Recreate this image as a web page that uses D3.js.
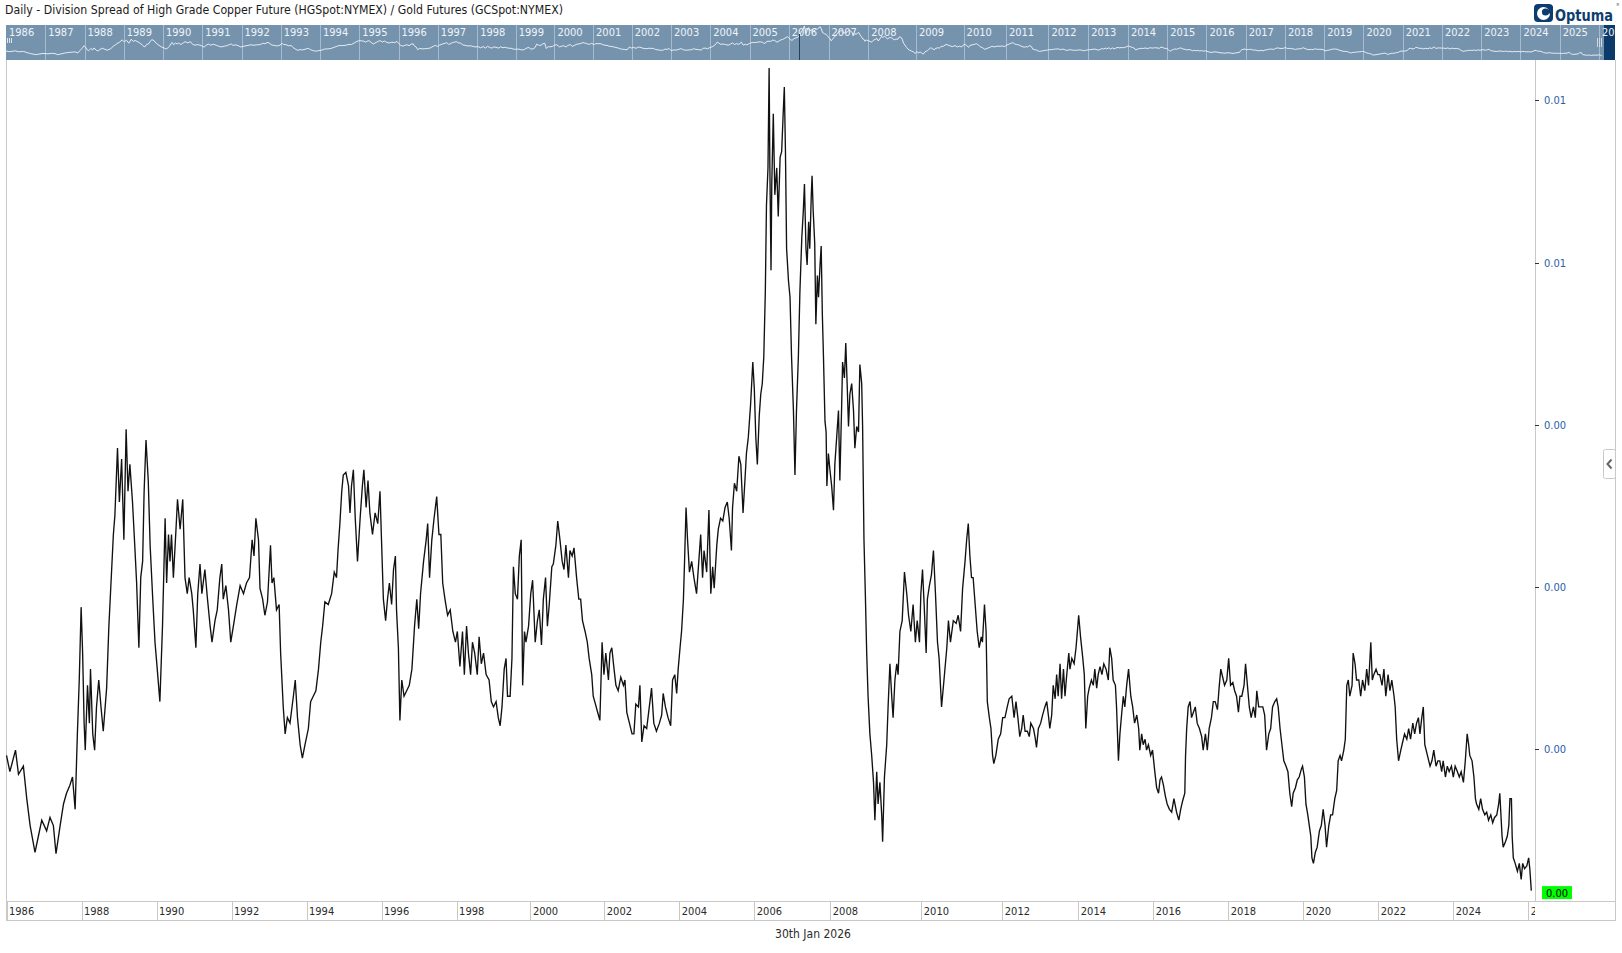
<!DOCTYPE html>
<html><head><meta charset="utf-8">
<script src="https://cdnjs.cloudflare.com/ajax/libs/d3/7.8.5/d3.min.js"></script>
<style>
html,body{margin:0;padding:0;background:#fff;overflow:hidden;}
svg{display:block;}
text{font-family:"DejaVu Sans Condensed","DejaVu Sans",sans-serif;font-stretch:condensed;}
</style></head><body>
<svg id="c" width="1622" height="953"></svg>
<script>
// ---------------- DATA ----------------
const titleText = "Daily - Division Spread of High Grade Copper Future (HGSpot:NYMEX) / Gold Futures (GCSpot:NYMEX)";
const dateText = "30th Jan 2026";
const xTickYears = [1986,1988,1990,1992,1994,1996,1998,2000,2002,2004,2006,2008,2010,2012,2014,2016,2018,2020,2022,2024,2026];
const navYears = [1986,1987,1988,1989,1990,1991,1992,1993,1994,1995,1996,1997,1998,1999,2000,2001,2002,2003,2004,2005,2006,2007,2008,2009,2010,2011,2012,2013,2014,2015,2016,2017,2018,2019,2020,2021,2022,2023,2024,2025,2026];
const yTicks = [0.002,0.003,0.004,0.005,0.006];
const yTickLabels = ["0.00","0.00","0.00","0.01","0.01"];
const lastValueLabel = "0.00";

const years = [
1986.00,1986.09,1986.24,1986.32,1986.45,1986.54,1986.63,1986.76,1986.85,1986.94,
1987.07,1987.16,1987.25,1987.32,1987.43,1987.52,1987.60,1987.69,1987.76,1987.83,
1987.89,1987.94,1987.99,1988.03,1988.07,1988.10,1988.16,1988.21,1988.24,1988.30,
1988.35,1988.40,1988.46,1988.52,1988.58,1988.67,1988.73,1988.79,1988.85,1988.89,
1988.96,1989.01,1989.07,1989.13,1989.19,1989.24,1989.29,1989.36,1989.42,1989.47,
1989.53,1989.58,1989.63,1989.67,1989.72,1989.78,1989.83,1989.90,1989.96,1990.02,
1990.09,1990.16,1990.23,1990.27,1990.32,1990.36,1990.40,1990.45,1990.52,1990.56,
1990.63,1990.70,1990.76,1990.82,1990.87,1990.94,1990.98,1991.05,1991.10,1991.16,
1991.21,1991.29,1991.36,1991.43,1991.48,1991.56,1991.62,1991.69,1991.74,1991.78,
1991.85,1991.92,1991.98,1992.05,1992.14,1992.23,1992.32,1992.40,1992.48,1992.55,
1992.60,1992.65,1992.72,1992.76,1992.83,1992.89,1992.96,1993.04,1993.08,1993.13,
1993.20,1993.27,1993.31,1993.38,1993.43,1993.49,1993.56,1993.65,1993.70,1993.76,
1993.83,1993.89,1993.96,1994.05,1994.11,1994.18,1994.25,1994.32,1994.38,1994.43,
1994.49,1994.58,1994.67,1994.74,1994.80,1994.84,1994.89,1994.94,1994.98,1995.05,
1995.12,1995.16,1995.20,1995.25,1995.30,1995.36,1995.43,1995.49,1995.53,1995.59,
1995.64,1995.69,1995.76,1995.83,1995.90,1995.96,1996.00,1996.05,1996.11,1996.16,
1996.21,1996.27,1996.32,1996.37,1996.40,1996.45,1996.49,1996.54,1996.60,1996.67,
1996.74,1996.81,1996.88,1996.94,1996.99,1997.04,1997.12,1997.19,1997.23,1997.28,
1997.34,1997.40,1997.47,1997.53,1997.58,1997.63,1997.69,1997.76,1997.83,1997.90,
1997.97,1998.02,1998.09,1998.16,1998.21,1998.27,1998.32,1998.38,1998.43,1998.49,
1998.56,1998.61,1998.67,1998.73,1998.80,1998.88,1998.94,1999.00,1999.07,1999.13,
1999.18,1999.23,1999.29,1999.34,1999.38,
1999.45,1999.50,1999.54,1999.59,1999.65,1999.70,1999.75,1999.79,1999.84,1999.88,
1999.95,2000.01,2000.06,2000.13,2000.19,2000.24,2000.30,2000.35,2000.41,2000.46,
2000.51,2000.58,2000.62,2000.69,2000.74,2000.80,2000.86,2000.91,2000.96,2001.03,
2001.07,2001.13,2001.18,2001.25,2001.31,2001.36,2001.41,2001.48,2001.54,2001.59,
2001.66,2001.70,2001.76,2001.82,2001.88,2001.94,2001.99,2002.04,2002.11,2002.15,
2002.20,2002.26,2002.31,2002.37,2002.44,2002.51,2002.55,2002.60,2002.67,2002.74,
2002.79,2002.84,2002.91,2002.95,2003.00,2003.06,2003.13,2003.20,2003.26,2003.32,
2003.39,2003.47,2003.53,2003.57,2003.63,2003.70,2003.77,2003.82,2003.88,2003.93,
2003.97,2004.02,2004.06,2004.11,2004.14,2004.18,2004.22,2004.27,2004.33,2004.39,
2004.46,2004.52,2004.57,2004.62,2004.66,2004.73,2004.79,2004.84,2004.89,2004.93,
2005.00,2005.04,2005.10,2005.16,2005.22,2005.28,2005.33,2005.39,2005.42,2005.47,
2005.53,2005.59,2005.64,2005.70,2005.75,2005.79,2005.84,2005.90,2005.96,2006.00,
2006.04,2006.08,2006.13,2006.17,2006.21,2006.25,2006.29,2006.32,2006.36,2006.39,
2006.41,2006.44,2006.46,2006.50,2006.54,2006.59,2006.63,2006.68,2006.72,2006.76,
2006.79,2006.82,2006.85,2006.90,2006.94,2006.98,2007.03,2007.07,2007.11,2007.16,
2007.20,2007.25,2007.29,2007.32,2007.36,2007.39,2007.43,2007.46,2007.50,2007.52,
2007.55,2007.59,2007.62,2007.66,2007.69,2007.73,2007.76,2007.79,2007.82,2007.86,
2007.89,2007.91,2007.95,2007.99,2008.03,2008.07,2008.10,2008.14,2008.18,2008.21,
2008.25,2008.27,2008.31,2008.34,2008.37,2008.40,2008.43,2008.47,2008.51,2008.54,
2008.58,2008.62,2008.65,2008.69,2008.71,2008.74,2008.77,2008.80,2008.83,2008.87,
2008.91,2008.95,2008.98,2009.02,2009.05,2009.09,2009.13,2009.15,2009.19,2009.24,
2009.27,2009.31,2009.35,2009.38,2009.42,2009.46,2009.49,2009.53,2009.58,2009.63,
2009.68,2009.72,2009.77,2009.82,2009.87,2009.91,2009.96,2009.99,2010.03,2010.07,
2010.12,2010.15,2010.20,2010.25,2010.30,2010.35,2010.40,2010.44,2010.50,2010.56,
2010.63,2010.67,2010.72,2010.79,2010.86,2010.91,2010.97,2011.02,2011.08,2011.12,
2011.16,2011.20,2011.24,2011.28,2011.33,2011.38,2011.43,2011.48,2011.51,2011.56,
2011.60,2011.63,2011.68,2011.72,2011.76,2011.79,2011.84,2011.90,2011.96,2012.01,
2012.07,2012.13,2012.18,2012.25,2012.31,2012.36,2012.41,
2012.46,2012.51,2012.55,2012.60,2012.66,2012.71,2012.75,2012.82,2012.86,2012.90,
2012.95,2013.01,2013.06,2013.12,2013.17,2013.22,2013.25,2013.30,2013.34,2013.39,
2013.43,2013.47,2013.52,2013.56,2013.61,2013.65,2013.69,2013.75,2013.78,2013.83,
2013.89,2013.94,2013.97,2014.01,2014.06,2014.12,2014.16,2014.20,2014.25,2014.29,
2014.35,2014.40,2014.44,2014.49,2014.53,2014.58,2014.63,2014.68,2014.74,2014.80,
2014.84,2014.89,2014.93,2014.99,2015.02,2015.07,2015.11,2015.16,2015.20,2015.24,
2015.29,2015.34,2015.40,2015.45,2015.50,2015.56,2015.61,2015.64,2015.69,2015.73,
2015.78,2015.82,2015.87,2015.93,2015.98,2016.04,2016.09,2016.14,2016.18,2016.22,
2016.27,2016.32,2016.37,2016.43,2016.49,2016.55,2016.62,2016.68,2016.73,2016.78,
2016.84,2016.86,2016.89,2016.93,2016.98,2017.02,2017.07,2017.12,2017.17,2017.23,
2017.29,2017.33,2017.39,2017.44,2017.49,2017.55,2017.60,2017.65,2017.71,2017.76,
2017.80,2017.85,2017.90,2017.96,2018.01,2018.06,2018.12,2018.17,2018.22,2018.27,
2018.31,2018.36,2018.42,2018.46,2018.51,2018.56,2018.61,2018.67,2018.72,2018.76,
2018.81,2018.86,2018.92,2018.97,2019.02,2019.08,2019.13,2019.18,2019.24,2019.29,
2019.33,2019.38,2019.43,2019.48,2019.54,2019.59,2019.64,2019.69,2019.73,2019.79,
2019.84,2019.89,2019.95,2019.98,2020.03,2020.07,2020.12,2020.16,2020.20,2020.23,
2020.27,2020.32,2020.37,2020.43,2020.48,2020.53,2020.58,2020.62,2020.68,2020.73,
2020.78,2020.84,2020.89,2020.93,2020.98,2021.02,2021.08,2021.12,2021.16,2021.20,
2021.24,2021.30,2021.33,2021.38,2021.42,2021.48,2021.53,2021.58,2021.64,2021.69,
2021.74,2021.80,2021.84,2021.88,2021.94,2021.99,2022.04,2022.10,2022.15,2022.20,
2022.26,2022.31,2022.36,2022.42,2022.45,2022.49,2022.54,2022.60,2022.65,2022.70,
2022.76,2022.81,2022.86,2022.92,2022.97,2023.02,2023.07,2023.11,2023.16,2023.20,
2023.24,2023.31,2023.38,2023.43,2023.48,2023.54,2023.59,2023.64,2023.69,2023.73,
2023.79,2023.84,2023.89,2023.95,2024.00,2024.05,2024.11,2024.16,2024.21,2024.27,
2024.32,2024.37,2024.41,2024.44,2024.50,2024.55,2024.59,2024.62,2024.68,2024.73,
2024.78,2024.84,2024.89,2024.94,2025.00,2025.05,2025.10,2025.16,2025.21,2025.24,
2025.27,2025.30,2025.33,2025.39,2025.44,2025.48,2025.51,2025.55,2025.57,2025.60,
2025.65,2025.71,2025.76,2025.81,2025.85,2025.90,2025.96,2026.01,2026.04,2026.08
];

const ratio = [
0.001963,0.001863,0.001996,0.001847,0.001897,0.001697,0.001531,0.001365,0.001465,0.001564,
0.001498,0.001581,0.001531,0.001358,0.001531,0.001664,0.001730,0.001780,0.001830,0.001631,
0.002096,0.002428,0.002877,0.002594,0.002162,0.001996,0.002395,0.002162,0.002495,0.002096,
0.001996,0.002262,0.002428,0.002262,0.002112,0.002378,0.002760,0.003043,0.003325,0.003441,
0.003857,0.003525,0.003790,0.003292,0.003973,0.003591,0.003757,0.003525,0.003259,0.003026,
0.002627,0.003059,0.003159,0.003591,0.003907,0.003657,0.003259,0.002926,0.002661,0.002495,
0.002295,0.002760,0.003425,0.003026,0.003325,0.003159,0.003325,0.003059,0.003358,0.003541,
0.003358,0.003541,0.003059,0.002960,0.003059,0.002960,0.002860,0.002627,0.002960,0.003142,
0.002960,0.003109,0.002926,0.002760,0.002661,0.002794,0.002860,0.003059,0.003142,0.002926,
0.003010,0.002860,0.002661,0.002760,0.002893,0.003010,0.002960,0.003026,0.003059,0.003292,
0.003192,0.003425,0.003292,0.002993,0.002926,0.002827,0.002910,0.003259,0.003026,0.003059,
0.002860,0.002893,0.002594,0.002262,0.002096,0.002196,0.002162,0.002328,0.002428,0.002196,
0.002029,0.001946,0.002029,0.002129,0.002295,0.002328,0.002362,0.002495,0.002661,0.002760,
0.002910,0.002893,0.002960,0.003093,0.003059,0.003226,0.003392,0.003591,0.003691,0.003707,
0.003624,0.003458,0.003624,0.003724,0.003425,0.003159,0.003425,0.003624,0.003724,0.003491,
0.003657,0.003458,0.003325,0.003458,0.003392,0.003591,0.003292,0.002926,0.002794,0.002926,
0.003026,0.002893,0.003109,0.003192,0.002860,0.002627,0.002179,0.002428,0.002328,0.002362,
0.002395,0.002495,0.002760,0.002926,0.002744,0.002960,0.003159,0.003292,0.003392,0.003059,
0.003292,0.003425,0.003558,0.003325,0.003325,0.003026,0.002926,0.002827,0.002860,0.002727,
0.002661,0.002727,0.002511,0.002727,0.002461,0.002760,0.002594,0.002461,0.002661,0.002594,
0.002461,0.002694,0.002528,0.002594,0.002461,0.002428,0.002295,0.002262,0.002295,0.002196,
0.002146,0.002262,0.002495,0.002561,0.002328,
0.002328,0.002561,0.003126,0.002960,0.002926,0.003192,0.003292,0.002395,0.002727,0.002661,
0.002760,0.002960,0.003043,0.002661,0.002794,0.002860,0.002644,0.002926,0.003059,0.002760,
0.002893,0.003126,0.003142,0.003259,0.003408,0.003292,0.003159,0.003109,0.003259,0.003059,
0.003226,0.003192,0.003242,0.003059,0.002926,0.002926,0.002794,0.002727,0.002661,0.002561,
0.002461,0.002328,0.002279,0.002229,0.002179,0.002661,0.002461,0.002594,0.002428,0.002594,
0.002627,0.002495,0.002395,0.002362,0.002445,0.002395,0.002428,0.002229,0.002162,0.002096,
0.002096,0.002279,0.002262,0.002395,0.002046,0.002146,0.002129,0.002262,0.002378,0.002162,
0.002112,0.002162,0.002212,0.002345,0.002262,0.002196,0.002146,0.002428,0.002461,0.002345,
0.002495,0.002627,0.002727,0.002926,0.003159,0.003491,0.003292,0.003093,0.003159,0.003059,
0.002960,0.003159,0.003325,0.003059,0.003226,0.003093,0.003475,0.002960,0.003126,0.002993,
0.003259,0.003358,0.003425,0.003408,0.003491,0.003525,0.003425,0.003226,0.003491,0.003641,
0.003591,0.003807,0.003757,0.003458,0.003657,0.003824,0.003923,0.004123,0.004388,0.004222,
0.003923,0.003757,0.004056,0.004189,0.004255,0.004422,0.004820,0.005352,0.005584,0.006199,
0.005584,0.004953,0.005485,0.005917,0.005418,0.005584,0.005285,0.005651,0.005684,0.005917,
0.006083,0.005684,0.005086,0.004887,0.004787,0.004422,0.004089,0.003691,0.004089,0.004422,
0.004820,0.005153,0.005319,0.005485,0.005086,0.004986,0.005252,0.005086,0.005418,0.005535,
0.005319,0.005119,0.004621,0.004920,0.004787,0.004986,0.005103,0.004687,0.004422,0.004023,
0.003956,0.003624,0.003824,0.003724,0.003624,0.003475,0.003757,0.003923,0.004089,0.003657,
0.004123,0.004388,0.004289,0.004505,0.004255,0.003990,0.004189,0.004255,0.004089,0.003857,
0.003990,0.003956,0.004372,0.004255,0.003990,0.003292,0.002960,0.002594,0.002328,0.002096,
0.001963,0.001797,0.001564,0.001863,0.001664,0.001797,0.001597,0.001431,0.001830,0.002029,
0.002262,0.002528,0.002328,0.002196,0.002428,0.002528,0.002461,0.002727,0.002794,0.003093,
0.002960,0.002827,0.002727,0.002893,0.002661,0.002794,0.002661,0.002960,0.003109,0.002893,
0.002594,0.002926,0.003010,0.003076,0.003226,0.002960,0.002661,0.002561,0.002262,0.002428,
0.002627,0.002794,0.002661,0.002794,0.002777,0.002827,0.002727,0.002993,0.003159,0.003292,
0.003392,0.003192,0.003059,0.003059,0.002893,0.002727,0.002627,0.002694,0.002661,0.002893,
0.002727,0.002295,0.002196,0.002129,0.001963,0.001913,0.001963,0.002063,0.002096,0.002196,
0.002196,0.002262,0.002312,0.002328,0.002196,0.002295,0.002196,
0.002079,0.002129,0.002212,0.002112,0.002112,0.002079,0.002162,0.002129,0.002079,0.002013,
0.002129,0.002162,0.002212,0.002262,0.002295,0.002196,0.002129,0.002212,0.002395,0.002312,
0.002461,0.002328,0.002528,0.002312,0.002495,0.002328,0.002445,0.002594,0.002495,0.002561,
0.002528,0.002627,0.002711,0.002827,0.002694,0.002561,0.002461,0.002129,0.002328,0.002378,
0.002428,0.002395,0.002495,0.002378,0.002461,0.002511,0.002461,0.002528,0.002495,0.002428,
0.002627,0.002561,0.002428,0.002395,0.002262,0.001930,0.002096,0.002229,0.002328,0.002262,
0.002395,0.002495,0.002328,0.002262,0.002162,0.002212,0.002129,0.001996,0.002096,0.002029,
0.002063,0.001996,0.002029,0.001963,0.001996,0.001863,0.001764,0.001730,0.001813,0.001830,
0.001780,0.001714,0.001664,0.001631,0.001614,0.001697,0.001614,0.001564,0.001631,0.001681,
0.001730,0.001963,0.002129,0.002262,0.002295,0.002196,0.002229,0.002262,0.002162,0.002129,
0.002079,0.001996,0.002096,0.001996,0.002129,0.002196,0.002295,0.002295,0.002245,0.002395,
0.002495,0.002445,0.002395,0.002428,0.002561,0.002395,0.002412,0.002362,0.002328,0.002229,
0.002328,0.002328,0.002395,0.002528,0.002395,0.002262,0.002196,0.002262,0.002196,0.002362,
0.002262,0.002262,0.002262,0.002212,0.001996,0.002096,0.002129,0.002262,0.002295,0.002312,
0.002262,0.002129,0.002029,0.001930,0.001897,0.001863,0.001730,0.001647,0.001730,0.001764,
0.001813,0.001830,0.001880,0.001897,0.001830,0.001664,0.001597,0.001531,0.001465,0.001332,
0.001298,0.001365,0.001398,0.001498,0.001531,0.001631,0.001531,0.001398,0.001531,0.001597,
0.001597,0.001697,0.001747,0.001930,0.001963,0.001930,0.001996,0.002063,0.002395,0.002428,
0.002328,0.002395,0.002594,0.002528,0.002428,0.002428,0.002328,0.002428,0.002362,0.002495,
0.002395,0.002661,0.002428,0.002461,0.002495,0.002461,0.002461,0.002395,0.002495,0.002328,
0.002461,0.002362,0.002428,0.002328,0.002262,0.002063,0.001930,0.001996,0.002046,0.002096,
0.002063,0.002129,0.002063,0.002162,0.002096,0.002162,0.002196,0.002096,0.002196,0.002262,
0.002029,0.001963,0.001897,0.001930,0.001996,0.001897,0.001930,0.001930,0.001863,0.001930,
0.001830,0.001897,0.001863,0.001897,0.001830,0.001897,0.001863,0.001830,0.001863,0.001797,
0.001930,0.002096,0.002029,0.001963,0.001930,0.001830,0.001697,0.001664,0.001631,0.001697,
0.001631,0.001597,0.001614,0.001564,0.001597,0.001548,0.001581,0.001597,0.001664,0.001730,
0.001597,0.001465,0.001398,0.001431,0.001465,0.001531,0.001697,0.001697,0.001465,0.001332,
0.001298,0.001249,0.001298,0.001199,0.001298,0.001265,0.001282,0.001332,0.001265,0.001130
];

// ---------------- LAYOUT ----------------
const plot = {left: 6, right: 1535, top: 60, bottom: 901};
const band = {top: 901, bottom: 920};
const outerRight = 1615;
const nav = {left: 6, right: 1615, top: 25, bottom: 60, dataRight: 1599};
// the original time axis is bar-indexed, so its year breaks are not evenly spaced
const xBreakPx = [6.5,81.5,156.5,231.5,306.5,381.5,456.6,530.4,604.3,679.3,754.3,830.3,921.3,1002.3,1078.3,1153.3,1228.3,1303.3,1378.3,1453.3,1528.3];

const svg = d3.select("#c");
const data = d3.zip(years, ratio);

const x = d3.scaleLinear().domain(xTickYears).range(xBreakPx);
const y = d3.scaleLinear().domain([0.001066, 0.006249]).range([plot.bottom, plot.top]);

const navK = (nav.dataRight - nav.left) / (xBreakPx[xBreakPx.length-1] - xBreakPx[0]);
const navX = d3.scaleLinear().domain(xTickYears).range(xBreakPx.map(p => nav.left + (p - xBreakPx[0]) * navK));
const navY = d3.scaleLinear().domain(d3.extent(ratio)).range([nav.bottom - 4, nav.top + 1]);

const defs = svg.append("defs");
defs.append("clipPath").attr("id","plotClip").append("rect")
  .attr("x", plot.left).attr("y", plot.top).attr("width", plot.right - plot.left).attr("height", plot.bottom - plot.top);
defs.append("clipPath").attr("id","bandClip").append("rect")
  .attr("x", plot.left).attr("y", band.top).attr("width", plot.right - plot.left).attr("height", band.bottom - band.top);
defs.append("clipPath").attr("id","navClip").append("rect")
  .attr("x", nav.left).attr("y", nav.top).attr("width", nav.right - nav.left).attr("height", nav.bottom - nav.top);

// ---------------- TITLE ----------------
svg.append("text").attr("x", 5).attr("y", 14)
  .attr("font-size", 11.5).attr("fill", "#1a1a1a")
  .attr("textLength", 558).attr("lengthAdjust", "spacingAndGlyphs")
  .text(titleText);

// ---------------- LOGO ----------------
const logo = svg.append("g");
logo.append("rect").attr("x", 1534).attr("y", 4).attr("width", 19).attr("height", 18).attr("rx", 4).attr("fill", "#0d3d6e");
logo.append("circle").attr("cx", 1543.5).attr("cy", 13.5).attr("r", 6.5).attr("fill", "#fff");
logo.append("circle").attr("cx", 1545.5).attr("cy", 12).attr("r", 3.6).attr("fill", "#0d3d6e");
logo.append("path").attr("d", "M1543.5,13.5 L1553,6 L1553,13.5 Z").attr("fill", "#0d3d6e");
logo.append("text").attr("x", 1555).attr("y", 20.5)
  .attr("font-size", 16).attr("font-weight", "bold").attr("fill", "#0d3d6e")
  .attr("textLength", 58).attr("lengthAdjust", "spacingAndGlyphs").text("Optuma");
logo.append("text").attr("x", 1616).attr("y", 6).attr("font-size", 4).attr("fill", "#0d3d6e").text("®");

// ---------------- NAVIGATOR ----------------
const navG = svg.append("g").attr("clip-path", "url(#navClip)");
navG.append("rect").attr("x", nav.left).attr("y", nav.top).attr("width", nav.right - nav.left).attr("height", nav.bottom - nav.top).attr("fill", "#7693ae");
navG.append("rect").attr("x", 1604).attr("y", nav.top).attr("width", nav.right - 1604).attr("height", nav.bottom - nav.top).attr("fill", "#0c3a6a");
navG.selectAll("line.navsep").data(navYears.slice(1)).join("line").attr("class","navsep")
  .attr("x1", d => Math.round(navX(d)) + 0.5).attr("x2", d => Math.round(navX(d)) + 0.5)
  .attr("y1", nav.top).attr("y2", nav.bottom).attr("stroke", "#a7bbce").attr("stroke-width", 1);
navG.selectAll("text.navlab").data(navYears).join("text").attr("class","navlab")
  .attr("x", d => navX(d) + 3).attr("y", nav.top + 11)
  .attr("font-size", 11).attr("fill", "#eef3f8").text(d => d);
navG.append("path").datum(data)
  .attr("d", d3.line().x(d => navX(d[0])).y(d => navY(d[1])))
  .attr("fill", "none").attr("stroke", "#f2f5f9").attr("stroke-width", 1).attr("opacity", 0.9);
// navigator marker and handles
navG.append("line").attr("x1", Math.round(navX(2006.25)) + 0.5).attr("x2", Math.round(navX(2006.25)) + 0.5)
  .attr("y1", nav.top + 9).attr("y2", nav.bottom).attr("stroke", "#23415e").attr("stroke-width", 1);
[0, 2, 4].forEach(o => {
  navG.append("line").attr("x1", nav.left + 1.5 + o).attr("x2", nav.left + 1.5 + o).attr("y1", nav.top + 13).attr("y2", nav.top + 18).attr("stroke", "#dfe6ee");
  navG.append("line").attr("x1", 1597.5 + o).attr("x2", 1597.5 + o).attr("y1", nav.top + 13).attr("y2", nav.top + 22).attr("stroke", "#cfd8e2");
});

// ---------------- FRAME ----------------
const frame = svg.append("g").attr("fill", "none").attr("stroke", "#c8c8c8").attr("stroke-width", 1);
frame.append("line").attr("x1", plot.left + 0.5).attr("x2", plot.left + 0.5).attr("y1", plot.top).attr("y2", band.bottom + 0.5);
frame.append("line").attr("x1", outerRight + 0.5).attr("x2", outerRight + 0.5).attr("y1", plot.top).attr("y2", band.bottom + 0.5);
frame.append("line").attr("x1", plot.right + 0.5).attr("x2", plot.right + 0.5).attr("y1", plot.top).attr("y2", band.top);
frame.append("line").attr("x1", plot.left).attr("x2", outerRight + 1).attr("y1", band.top + 0.5).attr("y2", band.top + 0.5);
frame.append("line").attr("x1", plot.left).attr("x2", outerRight + 1).attr("y1", band.bottom + 0.5).attr("y2", band.bottom + 0.5);

// ---------------- X AXIS (bottom band) ----------------
const xAxis = d3.axisBottom(x).tickValues(xTickYears).tickSize(band.bottom - band.top).tickFormat(d3.format("d"));
const xOuter = svg.append("g").attr("clip-path", "url(#bandClip)");
const xg = xOuter.append("g").attr("transform", `translate(0,${band.top})`).call(xAxis);
xg.select(".domain").remove();
xg.selectAll(".tick line").attr("stroke", "#c8c8c8").attr("shape-rendering", "crispEdges");
xg.selectAll(".tick text").attr("text-anchor", "start").attr("x", 2).attr("y", 14).attr("dy", null)
  .attr("font-size", 11).attr("fill", "#2b2b2b").attr("font-family", null);

// ---------------- Y AXIS ----------------
const yAxis = d3.axisRight(y).tickValues(yTicks).tickSize(4).tickPadding(5).tickFormat((d, i) => yTickLabels[i]);
const yg = svg.append("g").attr("transform", `translate(${plot.right},0)`).call(yAxis);
yg.select(".domain").remove();
yg.selectAll(".tick line").attr("stroke", "#333").attr("shape-rendering", "crispEdges");
yg.selectAll(".tick text").attr("font-size", 11).attr("fill", "#2a5ea8").attr("font-family", null);

// ---------------- SERIES ----------------
svg.append("path").datum(data).attr("clip-path", "url(#plotClip)")
  .attr("d", d3.line().x(d => x(d[0])).y(d => y(d[1])))
  .attr("fill", "none").attr("stroke", "#111").attr("stroke-width", 1.35).attr("stroke-linejoin", "miter");

// ---------------- LAST VALUE LABEL ----------------
const lastV = ratio[ratio.length - 1];
svg.append("rect").attr("x", 1542).attr("y", y(lastV) - 4.5).attr("width", 30).attr("height", 13).attr("fill", "#00ff00");
svg.append("text").attr("x", 1557).attr("y", y(lastV) + 6).attr("text-anchor", "middle")
  .attr("font-size", 11).attr("fill", "#000").text(lastValueLabel);

// ---------------- SIDE TAB ----------------
svg.append("rect").attr("x", 1603.5).attr("y", 449.5).attr("width", 12).attr("height", 29).attr("rx", 2)
  .attr("fill", "#fff").attr("stroke", "#c8c8c8");
svg.append("path").attr("d", "M1611.5,459.5 L1607.5,464 L1611.5,468.5").attr("fill", "none").attr("stroke", "#666").attr("stroke-width", 2);

// ---------------- DATE LABEL ----------------
svg.append("text").attr("x", 813).attr("y", 938).attr("text-anchor", "middle")
  .attr("font-size", 12).attr("fill", "#2b2b2b").text(dateText);
</script>
</body></html>
